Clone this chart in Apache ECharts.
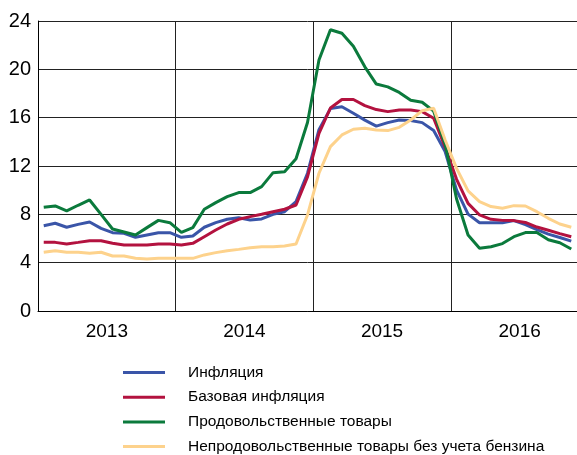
<!DOCTYPE html>
<html>
<head>
<meta charset="utf-8">
<script src="https://cdn.jsdelivr.net/npm/echarts@6/dist/echarts.min.js"></script>
<style>
html,body{margin:0;padding:0;background:#fff;}
#chart{width:577px;height:455px;}
</style>
</head>
<body>
<div id="chart"></div>
<script>
// Monthly data, Jan 2013 .. Nov 2016 (47 months)
const years = ['2013', '2014', '2015', '2016'];
const yTicks = [0, 4, 8, 12, 16, 20, 24];
const seriesNames = ['Инфляция', 'Базовая инфляция', 'Продовольственные товары', 'Непродовольственные товары без учета бензина'];

const inflation = [
  7.06, 7.26, 6.93, 7.17, 7.37, 6.84, 6.48, 6.43, 6.10, 6.29, 6.48, 6.48,
  6.10, 6.21, 6.93, 7.31, 7.59, 7.72, 7.53, 7.62, 8.00, 8.22, 9.05, 11.40,
  15.00, 16.75, 16.90, 16.36, 15.80, 15.30, 15.59, 15.81, 15.76, 15.59, 14.93, 13.20,
  10.00, 8.02, 7.30, 7.30, 7.30, 7.48, 7.15, 6.73, 6.36, 6.08, 5.78
];
const coreInflation = [
  5.68, 5.68, 5.55, 5.68, 5.82, 5.82, 5.60, 5.46, 5.46, 5.46, 5.55, 5.55,
  5.46, 5.60, 6.15, 6.70, 7.20, 7.59, 7.81, 8.00, 8.22, 8.42, 8.77, 11.10,
  14.70, 16.80, 17.50, 17.50, 17.00, 16.67, 16.50, 16.64, 16.64, 16.50, 15.95, 13.55,
  10.90, 8.91, 7.95, 7.59, 7.50, 7.48, 7.33, 6.95, 6.68, 6.40, 6.15
];
const food = [
  8.58, 8.69, 8.28, 8.75, 9.19, 8.00, 6.79, 6.54, 6.29, 6.90, 7.50, 7.31,
  6.50, 6.90, 8.42, 8.97, 9.46, 9.80, 9.80, 10.29, 11.45, 11.53, 12.60, 15.60,
  20.78, 23.28, 22.99, 21.91, 20.21, 18.78, 18.55, 18.09, 17.44, 17.28, 16.54, 13.80,
  9.27, 6.29, 5.19, 5.32, 5.58, 6.15, 6.49, 6.49, 5.90, 5.65, 5.13
];
const nonFood = [
  4.86, 4.99, 4.86, 4.86, 4.78, 4.86, 4.55, 4.55, 4.36, 4.30, 4.36, 4.36,
  4.36, 4.36, 4.64, 4.83, 4.99, 5.10, 5.24, 5.32, 5.32, 5.38, 5.55, 7.95,
  11.40, 13.60, 14.57, 15.04, 15.12, 14.98, 14.93, 15.20, 15.81, 16.58, 16.78, 14.15,
  11.80, 9.94, 9.05, 8.64, 8.50, 8.72, 8.69, 8.22, 7.67, 7.20, 6.93
];
const seriesValues = [inflation, coreInflation, food, nonFood];
const colors = ['#3a55a8', '#b3123f', '#0b7a3c', '#fdd28c'];

const FONT = '"Liberation Sans", Arial, sans-serif';

const chart = echarts.init(document.getElementById('chart'), null, {renderer: 'canvas'});
chart.setOption({
  animation: false,
  backgroundColor: '#fff',
  grid: {left: 38, top: 21, right: 0, bottom: 144, containLabel: false},
  xAxis: [
    {
      type: 'value', min: 0, max: 47, interval: 12,
      axisLine: {show: true, onZero: false, lineStyle: {color: '#000', width: 1}},
      axisTick: {show: false},
      axisLabel: {show: false},
      splitLine: {show: true, lineStyle: {color: '#222', width: 1}}
    },
    {
      type: 'value', min: 0, max: 47, interval: 6, position: 'bottom',
      axisLine: {show: false},
      axisTick: {show: false},
      splitLine: {show: false},
      axisLabel: {
        show: true, margin: 11, color: '#000', fontSize: 19, fontFamily: FONT,
        showMinLabel: true, showMaxLabel: false,
        formatter: function (v) { return (v % 12 === 6) ? years[(v - 6) / 12] : ''; }
      }
    }
  ],
  yAxis: {
    type: 'value', min: yTicks[0], max: yTicks[yTicks.length - 1], interval: 4,
    axisLine: {show: true, lineStyle: {color: '#000', width: 1}},
    axisTick: {show: false},
    axisLabel: {color: '#000', fontSize: 20, fontFamily: FONT, margin: 7},
    splitLine: {show: true, lineStyle: {color: '#222', width: 1}}
  },
  legend: {
    orient: 'vertical', left: 123, top: 362, height: 150, width: 460, padding: 0,
    icon: 'rect', itemWidth: 42, itemHeight: 3, itemGap: 3.7,
    textStyle: {color: '#000', fontSize: 15.5, fontFamily: FONT, lineHeight: 21, padding: [0, 0, 0, 18]},
    data: seriesNames
  },
  series: seriesNames.map(function (name, k) {
    return {
      name: name, type: 'line', xAxisIndex: 0,
      symbol: 'none', smooth: false,
      color: colors[k],
      lineStyle: {color: colors[k], width: 3},
      data: seriesValues[k].map(function (v, i) { return [i + 0.5, v]; })
    };
  })
});
</script>
</body>
</html>
